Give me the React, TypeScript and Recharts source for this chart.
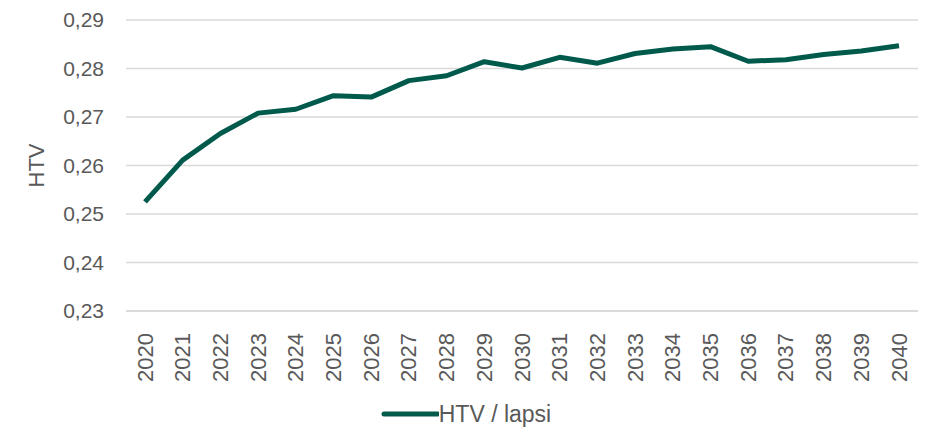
import { LineChart, Line, XAxis, YAxis, CartesianGrid, Legend } from "recharts"

const years = [
  "2020", "2021", "2022", "2023", "2024", "2025", "2026", "2027", "2028", "2029", "2030",
  "2031", "2032", "2033", "2034", "2035", "2036", "2037", "2038", "2039", "2040"
]
const htvPerChild = [
  0.2525, 0.2611, 0.2666, 0.2708, 0.2716, 0.2744, 0.2741, 0.2775, 0.2785, 0.2814, 0.2801,
  0.2823, 0.2811, 0.2831, 0.284, 0.2845, 0.2815, 0.2818, 0.2829, 0.2836, 0.2847
]
const yTicks = [0.23, 0.24, 0.25, 0.26, 0.27, 0.28, 0.29]

const data = years.map((year, i) => ({ year, value: htvPerChild[i] }))

const green = "#005a4b"
const grey = "#595959"
const font = "'Liberation Sans', Arial, sans-serif"

const YearTick = (props: any) => {
  const { x, y, payload } = props
  return (
    <text
      x={x}
      y={y}
      transform={`rotate(-90 ${x} ${y})`}
      textAnchor="end"
      dominantBaseline="central"
      fill={grey}
      fontSize={22}
      fontFamily={font}
      dx={-14}
    >
      {payload.value}
    </text>
  )
}

const LegendBox = () => (
  <div style={{ display: "flex", justifyContent: "center", alignItems: "center", fontFamily: font, fontSize: 23, lineHeight: "26px", color: grey, paddingTop: 6, paddingLeft: 14 }}>
    <svg width={58} height={8}>
      <line x1={3} y1={4} x2={57} y2={4} stroke={green} strokeWidth={5} strokeLinecap="round" />
    </svg>
    <span>HTV / lapsi</span>
  </div>
)

export default function App() {
  return (
    <div style={{ position: "absolute", left: 0, top: 0, background: "#fff" }}>
      <LineChart width={926} height={429} data={data} margin={{ top: 20, right: 8, left: 0, bottom: 0 }}>
        <CartesianGrid vertical={false} stroke="#d9d9d9" strokeWidth={1.5} />
        <XAxis
          dataKey="year"
          interval={0}
          height={84}
          padding={{ left: 19, right: 19 }}
          tickLine={false}
          axisLine={{ stroke: "#d9d9d9", strokeWidth: 1.5 }}
          tick={<YearTick />}
        />
        <YAxis
          width={126}
          domain={[0.23, 0.29]}
          ticks={yTicks}
          axisLine={false}
          tickLine={false}
          tickMargin={16}
          tickFormatter={(v: number) => v.toFixed(2).replace(".", ",")}
          tick={{ fill: grey, fontSize: 21, fontFamily: font }}
          label={{ value: "HTV", angle: -90, position: "center", dx: -27, fill: grey, fontSize: 22, fontFamily: font }}
        />
        <Legend verticalAlign="bottom" height={34} content={<LegendBox />} />
        <Line
          type="linear"
          dataKey="value"
          stroke={green}
          strokeWidth={5}
          dot={false}
          strokeLinejoin="round"
          isAnimationActive={false}
        />
      </LineChart>
    </div>
  )
}
